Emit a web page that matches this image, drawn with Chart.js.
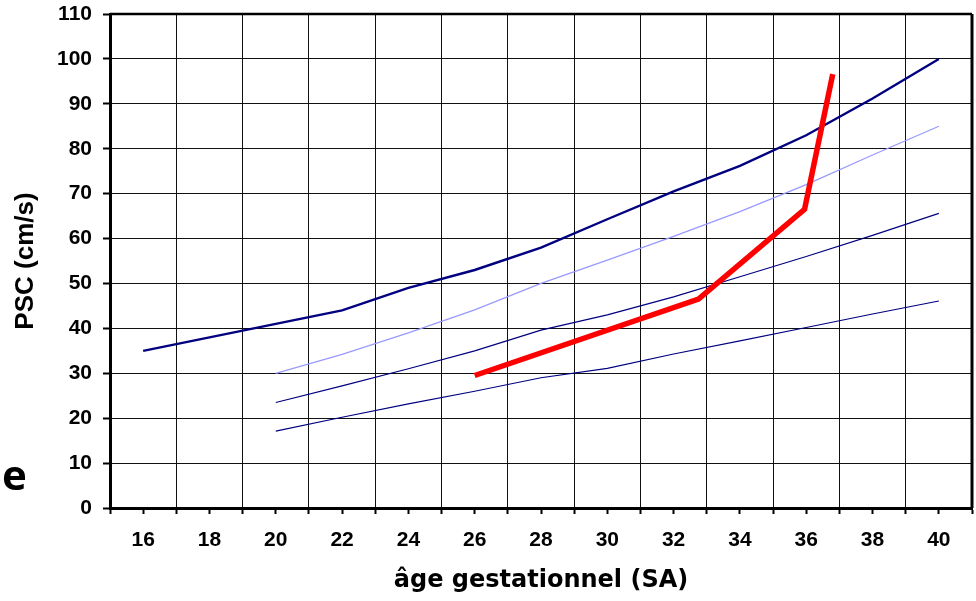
<!DOCTYPE html>
<html>
<head>
  <meta charset="UTF-8" />
  <title>PSC / âge gestationnel</title>
  <style>
    body { margin: 0; background: #fff; }
    .wrap { position: relative; width: 976px; height: 601px; }
    .panel-letter {
      position: absolute; left: 2px; top: 453px;
      font: bold 42px "Open Sans", sans-serif; line-height: 42px; color: #000;
    }
  </style>
</head>
<body>
  <div class="wrap">
    <canvas id="pscChart" width="976" height="601"></canvas>
    <div class="panel-letter">e</div>
  </div>

  <script src="https://cdn.jsdelivr.net/npm/chart.js"></script>
  <script>
    // weeks of gestation (SA)
    const weeks = [16, 18, 20, 22, 24, 26, 28, 30, 32, 34, 36, 38, 40];

    // reference curves, PSC in cm/s (null = no value)
    const curveTop   = [35, 38, 41, 44, 49, 53, 58, 64.3, 70.5, 76.2, 83, 91.2, 100];
    const curveLight = [null, null, 30, 34.2, 39, 44.1, 50, 55.2, 60.5, 66, 72, 78.6, 85];
    const curveMid   = [null, null, 23.5, 27.2, 31, 35, 39.6, 43, 47, 51.5, 56, 60.7, 65.6];
    const curveLow   = [null, null, 17.1, 20.2, 23.2, 26, 29, 31.1, 34.3, 37.2, 40.2, 43.2, 46.1];

    // patient measurements
    const patientWeeks = [26, 32.75, 35.95, 36.8];
    const patientPsc   = [29.5, 46.5, 66.5, 96.6];

    const toPoints = (xs, ys) => xs
      .map((x, i) => ({ x: x, y: ys[i] }))
      .filter(p => p.y !== null);

    // top + right frame of the plot area
    const frame = {
      id: 'frame',
      afterDatasetsDraw(chart) {
        const { ctx, chartArea: a } = chart;
        ctx.save();
        ctx.strokeStyle = '#000';
        ctx.lineWidth = 2.5;
        ctx.beginPath();
        ctx.moveTo(a.left, a.top);
        ctx.lineTo(a.right, a.top);
        ctx.stroke();
        ctx.lineWidth = 3;
        ctx.beginPath();
        ctx.moveTo(a.right, a.top);
        ctx.lineTo(a.right, a.bottom);
        ctx.stroke();
        ctx.restore();
      }
    };

    const tickFont = { family: 'Liberation Sans, Arial, sans-serif', size: 21, weight: 'bold' };

    new Chart(document.getElementById('pscChart'), {
      type: 'line',
      data: {
        datasets: [
          {
            label: 'patient',
            data: toPoints(patientWeeks, patientPsc),
            borderColor: '#ff0000',
            borderWidth: 5.5,
            order: 0
          },
          {
            label: 'top',
            data: toPoints(weeks, curveTop),
            borderColor: '#000080',
            borderWidth: 2.4,
            order: 1
          },
          {
            label: 'light',
            data: toPoints(weeks, curveLight),
            borderColor: '#9999ff',
            borderWidth: 1.3,
            order: 2
          },
          {
            label: 'mid',
            data: toPoints(weeks, curveMid),
            borderColor: '#000080',
            borderWidth: 1.2,
            order: 3
          },
          {
            label: 'low',
            data: toPoints(weeks, curveLow),
            borderColor: '#000080',
            borderWidth: 1.2,
            order: 4
          }
        ]
      },
      options: {
        responsive: false,
        animation: false,
        elements: {
          point: { radius: 0, hoverRadius: 0 },
          line: { tension: 0, fill: false }
        },
        layout: { padding: { top: 14, right: 4, bottom: 0, left: 0 } },
        plugins: {
          legend: { display: false },
          tooltip: { enabled: false }
        },
        scales: {
          x: {
            type: 'linear',
            min: 15,
            max: 41,
            afterFit: s => { s.height = 93; s.paddingLeft = 0; s.paddingRight = 0; },
            ticks: {
              stepSize: 1,
              autoSkip: false,
              maxRotation: 0,
              padding: 14,
              color: '#000',
              font: tickFont,
              callback: v => (v % 2 === 0 ? v : '')
            },
            grid: {
              color: c => (c.tick && c.tick.value % 2 !== 0 ? '#111' : 'rgba(0,0,0,0)'),
              lineWidth: 1,
              tickColor: '#000',
              tickLength: 6,
              tickWidth: 2
            },
            border: { color: '#000', width: 3 },
            title: {
              display: true,
              text: 'âge gestationnel (SA)',
              color: '#000',
              font: { family: 'DejaVu Sans, sans-serif', size: 24, weight: 'bold' },
              padding: { top: 0, bottom: 6 }
            }
          },
          y: {
            min: 0,
            max: 110,
            afterFit: s => { s.width = 110; s.paddingTop = 0; s.paddingBottom = 0; },
            ticks: {
              stepSize: 10,
              padding: 11,
              color: '#000',
              font: tickFont
            },
            grid: {
              color: '#111',
              lineWidth: 1,
              tickColor: '#000',
              tickLength: 7,
              tickWidth: 2
            },
            border: { color: '#000', width: 3 },
            title: {
              display: true,
              text: 'PSC (cm/s)',
              color: '#000',
              font: { family: 'Liberation Sans, Arial, sans-serif', size: 26, weight: 'bold' },
              padding: { top: 10, bottom: 0 }
            }
          }
        }
      },
      plugins: [frame]
    });
  </script>
</body>
</html>
